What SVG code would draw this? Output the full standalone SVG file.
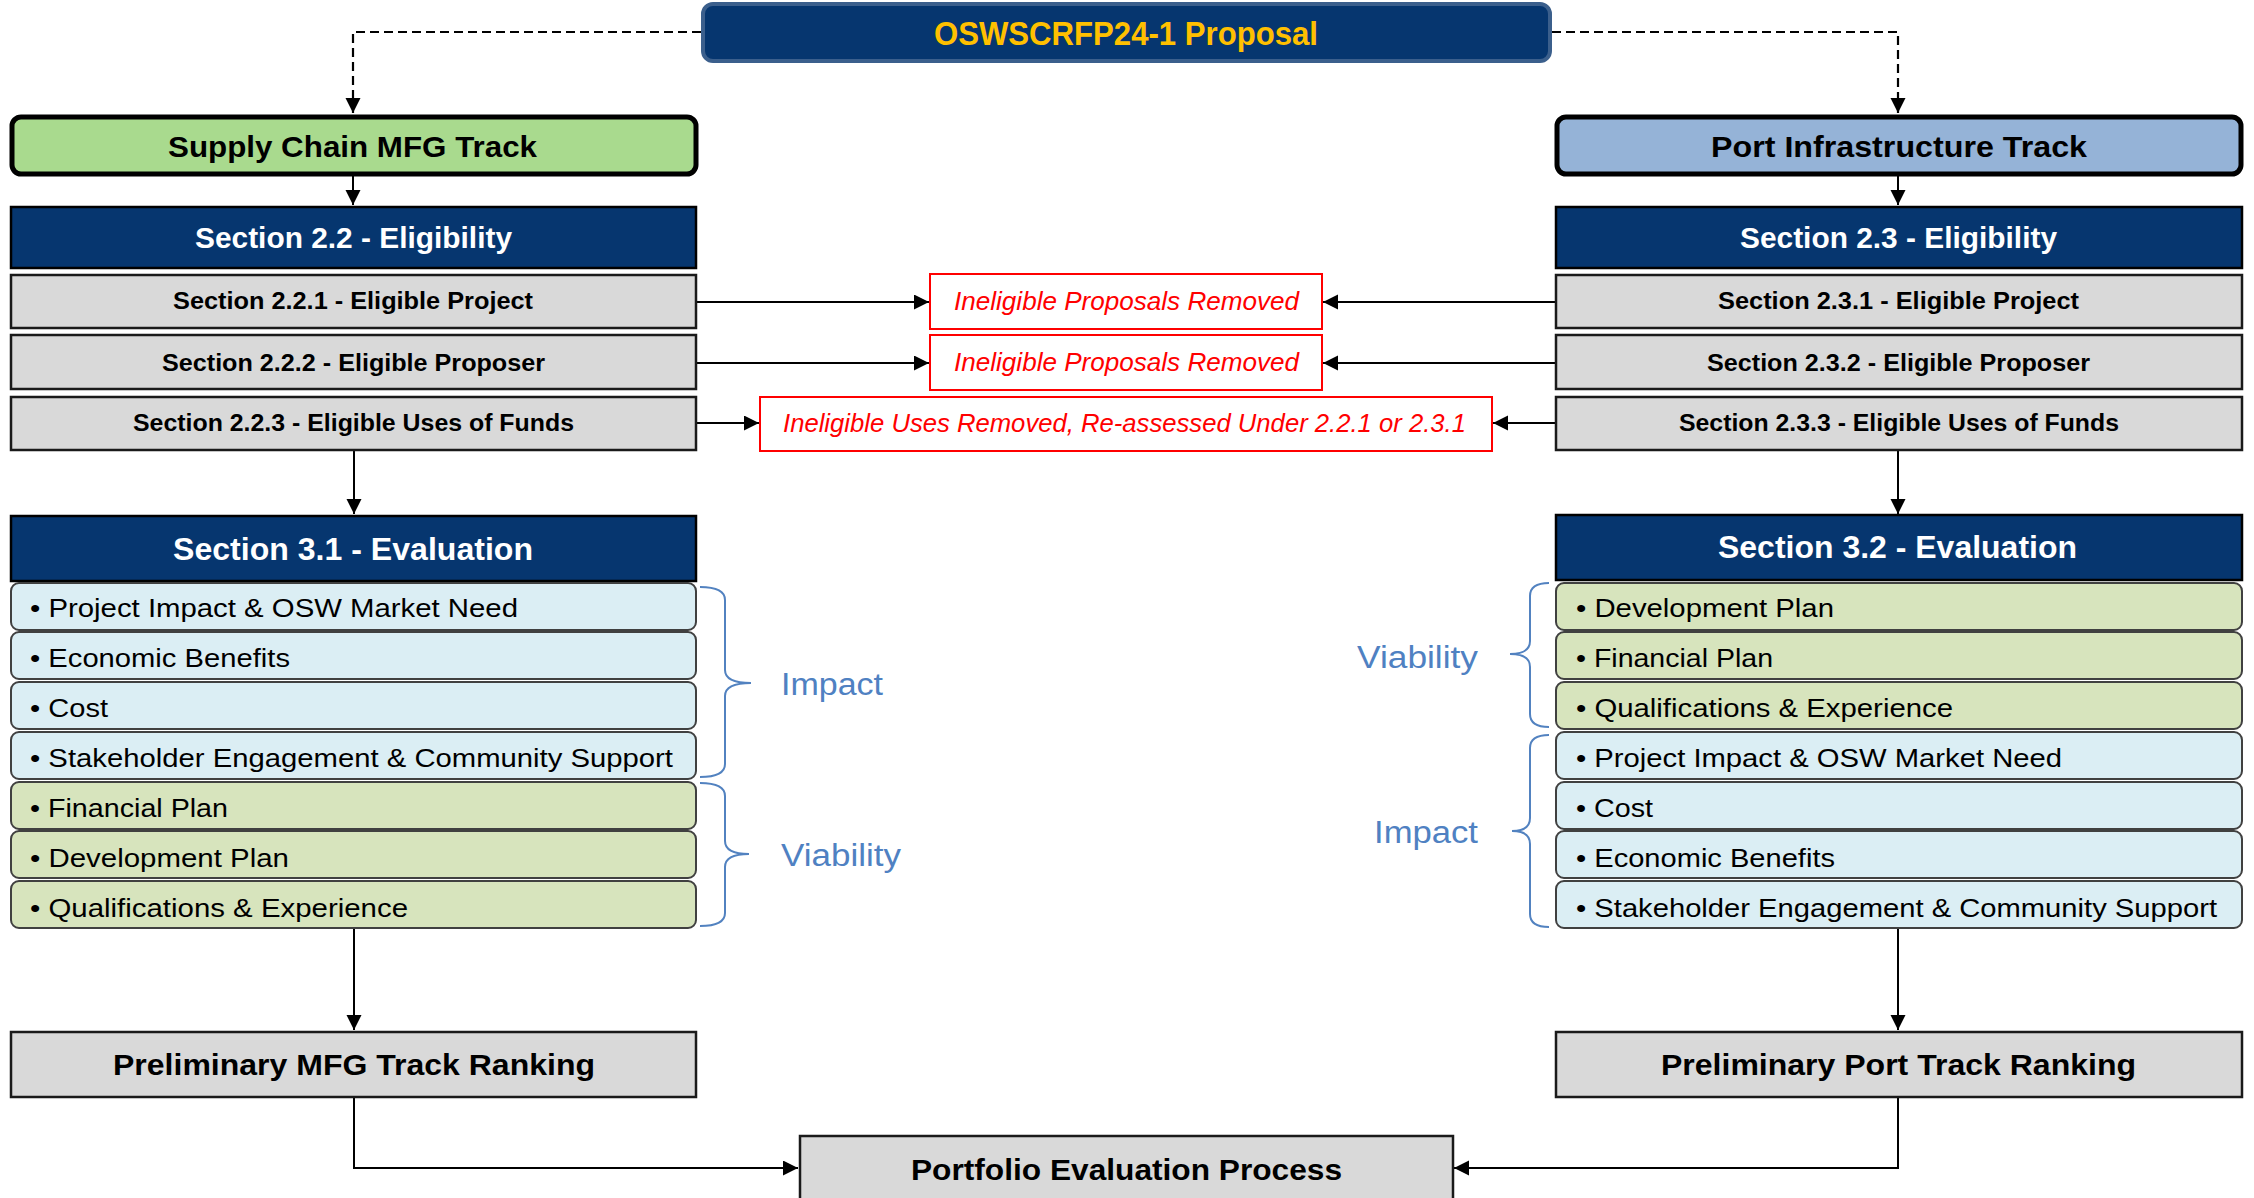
<svg xmlns="http://www.w3.org/2000/svg" width="2254" height="1198" viewBox="0 0 2254 1198">
<defs>
<marker id="ah" markerUnits="userSpaceOnUse" markerWidth="16" markerHeight="16" refX="15" refY="7.5" orient="auto">
<path d="M0,0 L15,7.5 L0,15 z" fill="#000"/>
</marker>
<style>
.t{font-family:"Liberation Sans",Arial,sans-serif;}
.b{font-weight:bold;}
.hdr{fill:#06366F;stroke:#000;stroke-width:2.5;}
.gray{fill:#D9D9D9;stroke:#1a1a1a;stroke-width:2.5;}
.red{fill:#fff;stroke:#FF0000;stroke-width:2;}
.rt{fill:#FF0000;font-style:italic;font-size:26px;}
.blu{fill:#DBEEF4;stroke:#404040;stroke-width:2;}
.grn{fill:#D7E4BD;stroke:#404040;stroke-width:2;}
.it{font-size:26px;fill:#000;}
.wt{fill:#fff;}
.gt{font-size:23px;}
.brace{fill:none;stroke:#5282C0;stroke-width:2;}
.bl{fill:#4F81C2;font-size:31px;}
.conn{fill:none;stroke:#000;stroke-width:2;}
.dash{fill:none;stroke:#000;stroke-width:2.2;stroke-dasharray:9 5;}
</style>
</defs>

<g id="connectors">
<path class="dash" d="M701,32 H353 V113" marker-end="url(#ah)"/>
<path class="dash" d="M1552,32 H1898 V113" marker-end="url(#ah)"/>
<path class="conn" d="M353,175 V205" marker-end="url(#ah)"/>
<path class="conn" d="M1898,175 V205" marker-end="url(#ah)"/>
<path class="conn" d="M696,302 H929" marker-end="url(#ah)"/>
<path class="conn" d="M1556,302 H1323" marker-end="url(#ah)"/>
<path class="conn" d="M696,363 H929" marker-end="url(#ah)"/>
<path class="conn" d="M1556,363 H1323" marker-end="url(#ah)"/>
<path class="conn" d="M696,423 H759" marker-end="url(#ah)"/>
<path class="conn" d="M1556,423 H1493" marker-end="url(#ah)"/>
<path class="conn" d="M354,450 V514" marker-end="url(#ah)"/>
<path class="conn" d="M1898,450 V514" marker-end="url(#ah)"/>
<path class="conn" d="M354,929 V1030" marker-end="url(#ah)"/>
<path class="conn" d="M1898,929 V1030" marker-end="url(#ah)"/>
<path class="conn" d="M354,1097 V1168 H798" marker-end="url(#ah)"/>
<path class="conn" d="M1898,1097 V1168 H1454" marker-end="url(#ah)"/>
</g>

<g id="proposal">
<rect x="703" y="4" width="847" height="57" rx="10" fill="#06366F" stroke="#3B5F8C" stroke-width="4"/>
<text class="t b" x="934" y="45" font-size="34" fill="#FFC000" textLength="384" lengthAdjust="spacingAndGlyphs">OSWSCRFP24-1 Proposal</text>
</g>

<g id="supply-track">
<rect x="12" y="117" width="684" height="57" rx="9" fill="#A9DA8E" stroke="#000" stroke-width="5"/>
<text class="t b" x="168" y="157" font-size="30" textLength="369" lengthAdjust="spacingAndGlyphs">Supply Chain MFG Track</text>
</g>
<g id="port-track">
<rect x="1557" y="117" width="684" height="57" rx="9" fill="#95B3D7" stroke="#000" stroke-width="5"/>
<text class="t b" x="1711" y="157" font-size="30" textLength="376" lengthAdjust="spacingAndGlyphs">Port Infrastructure Track</text>
</g>

<g id="sec22">
<rect class="hdr" x="11" y="207" width="685" height="61"/>
<text class="t b wt" x="195" y="248" font-size="29" textLength="317" lengthAdjust="spacingAndGlyphs">Section 2.2 - Eligibility</text>
</g>
<g id="sec23">
<rect class="hdr" x="1556" y="207" width="686" height="61"/>
<text class="t b wt" x="1740" y="248" font-size="29" textLength="317" lengthAdjust="spacingAndGlyphs">Section 2.3 - Eligibility</text>
</g>

<g id="sec221">
<rect class="gray" x="11" y="275" width="685" height="53"/>
<text class="t b gt" x="173" y="309" textLength="360" lengthAdjust="spacingAndGlyphs">Section 2.2.1 - Eligible Project</text>
</g>
<g id="sec222">
<rect class="gray" x="11" y="335" width="685" height="54"/>
<text class="t b gt" x="162" y="371" textLength="383" lengthAdjust="spacingAndGlyphs">Section 2.2.2 - Eligible Proposer</text>
</g>
<g id="sec223">
<rect class="gray" x="11" y="397" width="685" height="53"/>
<text class="t b gt" x="133" y="431" textLength="441" lengthAdjust="spacingAndGlyphs">Section 2.2.3 - Eligible Uses of Funds</text>
</g>
<g id="sec231">
<rect class="gray" x="1556" y="275" width="686" height="53"/>
<text class="t b gt" x="1718" y="309" textLength="361" lengthAdjust="spacingAndGlyphs">Section 2.3.1 - Eligible Project</text>
</g>
<g id="sec232">
<rect class="gray" x="1556" y="335" width="686" height="54"/>
<text class="t b gt" x="1707" y="371" textLength="383" lengthAdjust="spacingAndGlyphs">Section 2.3.2 - Eligible Proposer</text>
</g>
<g id="sec233">
<rect class="gray" x="1556" y="397" width="686" height="53"/>
<text class="t b gt" x="1679" y="431" textLength="440" lengthAdjust="spacingAndGlyphs">Section 2.3.3 - Eligible Uses of Funds</text>
</g>

<g id="removed1">
<rect class="red" x="930" y="274" width="392" height="55"/>
<text class="t rt" x="954" y="310" textLength="345" lengthAdjust="spacingAndGlyphs">Ineligible Proposals Removed</text>
</g>
<g id="removed2">
<rect class="red" x="930" y="335" width="392" height="55"/>
<text class="t rt" x="954" y="371" textLength="345" lengthAdjust="spacingAndGlyphs">Ineligible Proposals Removed</text>
</g>
<g id="removed3">
<rect class="red" x="760" y="397" width="732" height="54"/>
<text class="t rt" x="783" y="432" textLength="683" lengthAdjust="spacingAndGlyphs">Ineligible Uses Removed, Re-assessed Under 2.2.1 or 2.3.1</text>
</g>

<g id="sec31">
<rect class="hdr" x="11" y="516" width="685" height="65"/>
<text class="t b wt" x="173" y="560" font-size="32" textLength="360" lengthAdjust="spacingAndGlyphs">Section 3.1 - Evaluation</text>
</g>
<g id="sec31-items">
<rect class="blu" x="11" y="583" width="685" height="47" rx="8"/>
<text class="t it" x="30" y="617" textLength="488" lengthAdjust="spacingAndGlyphs">• Project Impact &amp; OSW Market Need</text>
<rect class="blu" x="11" y="632" width="685" height="47" rx="8"/>
<text class="t it" x="30" y="667" textLength="260" lengthAdjust="spacingAndGlyphs">• Economic Benefits</text>
<rect class="blu" x="11" y="682" width="685" height="47" rx="8"/>
<text class="t it" x="30" y="717" textLength="78" lengthAdjust="spacingAndGlyphs">• Cost</text>
<rect class="blu" x="11" y="732" width="685" height="47" rx="8"/>
<text class="t it" x="30" y="767" textLength="643" lengthAdjust="spacingAndGlyphs">• Stakeholder Engagement &amp; Community Support</text>
<rect class="grn" x="11" y="782" width="685" height="47" rx="8"/>
<text class="t it" x="30" y="817" textLength="198" lengthAdjust="spacingAndGlyphs">• Financial Plan</text>
<rect class="grn" x="11" y="831" width="685" height="47" rx="8"/>
<text class="t it" x="30" y="867" textLength="259" lengthAdjust="spacingAndGlyphs">• Development Plan</text>
<rect class="grn" x="11" y="881" width="685" height="47" rx="8"/>
<text class="t it" x="30" y="917" textLength="378" lengthAdjust="spacingAndGlyphs">• Qualifications &amp; Experience</text>
</g>
<g id="brace-left-impact">
<path class="brace" d="M700,587 Q725,587 725,600 L725,670 Q725,683 751,683 Q725,683 725,696 L725,764 Q725,777 700,777"/>
<text class="t bl" x="781" y="695" textLength="102" lengthAdjust="spacingAndGlyphs">Impact</text>
</g>
<g id="brace-left-viability">
<path class="brace" d="M700,783 Q725,783 725,796 L725,841 Q725,854 749,854 Q725,854 725,867 L725,913 Q725,926 700,926"/>
<text class="t bl" x="781" y="866" textLength="120" lengthAdjust="spacingAndGlyphs">Viability</text>
</g>

<g id="sec32">
<rect class="hdr" x="1556" y="515" width="686" height="65"/>
<text class="t b wt" x="1718" y="558" font-size="32" textLength="359" lengthAdjust="spacingAndGlyphs">Section 3.2 - Evaluation</text>
</g>
<g id="sec32-items">
<rect class="grn" x="1556" y="583" width="686" height="47" rx="8"/>
<text class="t it" x="1576" y="617" textLength="258" lengthAdjust="spacingAndGlyphs">• Development Plan</text>
<rect class="grn" x="1556" y="632" width="686" height="47" rx="8"/>
<text class="t it" x="1576" y="667" textLength="197" lengthAdjust="spacingAndGlyphs">• Financial Plan</text>
<rect class="grn" x="1556" y="682" width="686" height="47" rx="8"/>
<text class="t it" x="1576" y="717" textLength="377" lengthAdjust="spacingAndGlyphs">• Qualifications &amp; Experience</text>
<rect class="blu" x="1556" y="732" width="686" height="47" rx="8"/>
<text class="t it" x="1576" y="767" textLength="486" lengthAdjust="spacingAndGlyphs">• Project Impact &amp; OSW Market Need</text>
<rect class="blu" x="1556" y="782" width="686" height="47" rx="8"/>
<text class="t it" x="1576" y="817" textLength="77" lengthAdjust="spacingAndGlyphs">• Cost</text>
<rect class="blu" x="1556" y="831" width="686" height="47" rx="8"/>
<text class="t it" x="1576" y="867" textLength="259" lengthAdjust="spacingAndGlyphs">• Economic Benefits</text>
<rect class="blu" x="1556" y="881" width="686" height="47" rx="8"/>
<text class="t it" x="1576" y="917" textLength="641" lengthAdjust="spacingAndGlyphs">• Stakeholder Engagement &amp; Community Support</text>
</g>
<g id="brace-right-viability">
<path class="brace" d="M1549,583 Q1530,583 1530,596 L1530,641 Q1530,654 1510,654 Q1530,654 1530,667 L1530,714 Q1530,727 1549,727"/>
<text class="t bl" x="1357" y="668" textLength="121" lengthAdjust="spacingAndGlyphs">Viability</text>
</g>
<g id="brace-right-impact">
<path class="brace" d="M1549,735 Q1530,735 1530,748 L1530,818 Q1530,831 1512,831 Q1530,831 1530,844 L1530,914 Q1530,927 1549,927"/>
<text class="t bl" x="1374" y="843" textLength="104" lengthAdjust="spacingAndGlyphs">Impact</text>
</g>

<g id="mfg-ranking">
<rect class="gray" x="11" y="1032" width="685" height="65"/>
<text class="t b" x="113" y="1075" font-size="30" textLength="482" lengthAdjust="spacingAndGlyphs">Preliminary MFG Track Ranking</text>
</g>
<g id="port-ranking">
<rect class="gray" x="1556" y="1032" width="686" height="65"/>
<text class="t b" x="1661" y="1075" font-size="30" textLength="475" lengthAdjust="spacingAndGlyphs">Preliminary Port Track Ranking</text>
</g>
<g id="portfolio">
<rect class="gray" x="800" y="1136" width="653" height="70"/>
<text class="t b" x="911" y="1180" font-size="30" textLength="431" lengthAdjust="spacingAndGlyphs">Portfolio Evaluation Process</text>
</g>
</svg>
